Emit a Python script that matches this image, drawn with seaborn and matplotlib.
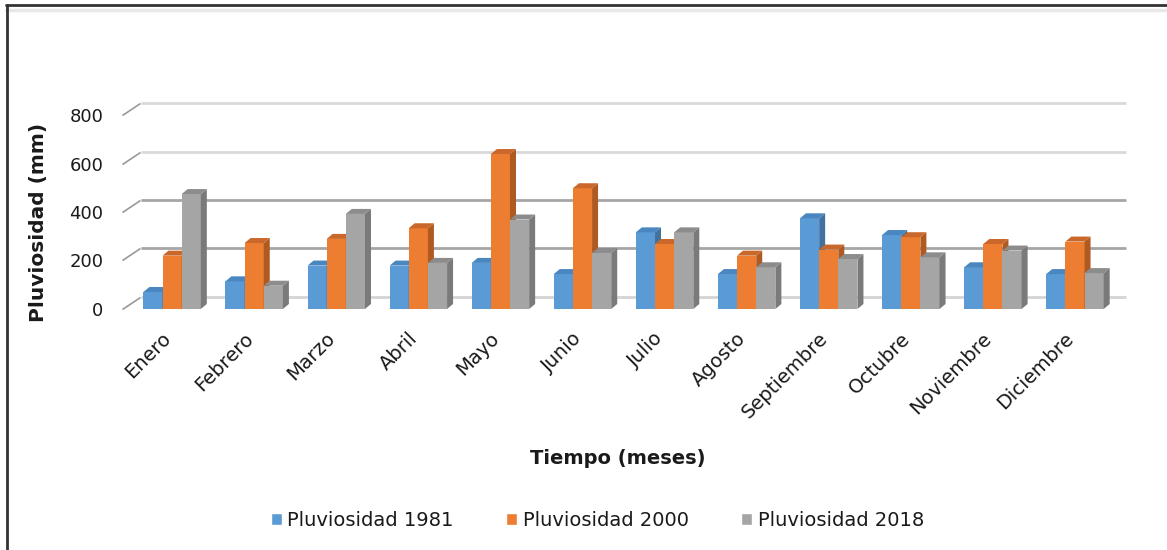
import matplotlib
matplotlib.use("Agg")
import matplotlib.pyplot as plt
import seaborn as sns
import pandas as pd
from matplotlib import transforms
from matplotlib.colors import to_hex
from matplotlib.lines import Line2D
from matplotlib.patches import Patch, Polygon
from matplotlib.path import Path

# datos
meses = ["Enero", "Febrero", "Marzo", "Abril", "Mayo", "Junio", "Julio",
         "Agosto", "Septiembre", "Octubre", "Noviembre", "Diciembre"]
series = ["Pluviosidad 1981", "Pluviosidad 2000", "Pluviosidad 2018"]
pluv_1981 = [70, 114, 179, 179, 190, 144, 316, 144, 374, 305, 172, 144]
pluv_2000 = [220, 272, 289, 333, 639, 498, 268, 220, 245, 296, 268, 278]
pluv_2018 = [474, 96, 392, 190, 369, 231, 316, 172, 206, 213, 241, 148]
y_ticks = [0, 200, 400, 600, 800]

colores = ["#5b9bd5", "#ed7d31", "#a5a5a5"]
lados = ["#41719c", "#ae5a21", "#7a7a7a"]
techos = ["#4a86bf", "#c9682a", "#8c8c8c"]

df = pd.DataFrame({
    "mes": meses * 3,
    "mm": pluv_1981 + pluv_2000 + pluv_2018,
    "serie": [s for s in series for _ in meses],
})

sns.set_style("white")
plt.rcParams["font.family"] = ["DejaVu Sans"]
plt.rcParams["text.color"] = "#1a1a1a"

DPI = 100
fig = plt.figure(figsize=(11.67, 5.5), dpi=DPI)
ax = fig.add_axes([0.1123, 0.4382, 0.8440, 0.3527])

sns.barplot(data=df, x="mes", y="mm", hue="serie", palette=colores,
            width=0.7, saturation=1, legend=False, ax=ax)
ax.set_xlim(-0.5, 11.5)
ax.set_ylim(0, 800)

# efecto 3D: cara lateral y superior de cada barra
pos = ax.get_position()
w_px = pos.width * fig.get_figwidth() * DPI
h_px = pos.height * fig.get_figheight() * DPI
dx = 6 * 12 / w_px
dy = 5 * 800 / h_px
lado_de = {to_hex(c): l for c, l in zip(colores, lados)}
techo_de = {to_hex(c): t for c, t in zip(colores, techos)}

barras = sorted(ax.patches, key=lambda p: p.get_x())
for k, p in enumerate(barras):
    x, w, h = p.get_x(), p.get_width(), p.get_height()
    col = to_hex(p.get_facecolor())
    z = 3 + k * 0.1
    p.set_zorder(z)
    p.set_edgecolor("none")
    lado = Polygon([(x + w, 0), (x + w + dx, dy), (x + w + dx, h + dy), (x + w, h)],
                   closed=True, facecolor=lado_de[col], edgecolor="none", zorder=z + 0.05)
    techo = Polygon([(x, h), (x + dx, h + dy), (x + w + dx, h + dy), (x + w, h)],
                    closed=True, facecolor=techo_de[col], edgecolor="none", zorder=z + 0.05)
    ax.add_patch(lado)
    ax.add_patch(techo)

# lineas de fondo (pared trasera)
atras = ax.get_yaxis_transform() + transforms.ScaledTranslation(10 / DPI, 12 / DPI, fig.dpi_scale_trans)
ax.hlines(y_ticks, 0, 1, transform=atras, colors=["#d4d4d4", "#a6a6a6", "#a6a6a6", "#d9d9d9", "#d9d9d9"],
          linewidth=2, zorder=0.5, clip_on=False)

# marcas inclinadas del eje y
marca = Path([(-1, -2 / 3), (1, 2 / 3)], [Path.MOVETO, Path.LINETO])
medio = ax.get_yaxis_transform() + transforms.ScaledTranslation(0, 6 / DPI, fig.dpi_scale_trans)
ax.plot([0] * len(y_ticks), y_ticks, linestyle="none", marker=marca, markersize=13,
        markeredgewidth=1.2, color="#9a9a9a", transform=medio, clip_on=False)

sns.despine(ax=ax, left=True, bottom=True)
ax.set_yticks(y_ticks)
ax.set_xlabel("")
ax.set_ylabel("")
ax.tick_params(axis="y", length=0, pad=20, labelsize=13, labelcolor="#1a1a1a")
ax.tick_params(axis="x", length=0, pad=19, labelsize=14, labelcolor="#1a1a1a")
corrida = transforms.ScaledTranslation(-4 / DPI, 0, fig.dpi_scale_trans)
for lbl in ax.get_xticklabels():
    lbl.set_rotation(45)
    lbl.set_ha("right")
    lbl.set_va("center")
    lbl.set_rotation_mode("anchor")
    lbl.set_transform(lbl.get_transform() + corrida)

fig.text(0.033, 0.596, "Pluviosidad (mm)", rotation=90, fontsize=14.5, fontweight="bold",
         ha="center", va="center")
fig.text(0.529, 0.167, "Tiempo (meses)", fontsize=14, fontweight="bold", ha="center", va="center")

manijas = [Patch(facecolor=c) for c in colores]
fig.legend(manijas, series, loc="center", bbox_to_anchor=(0.512, 0.054), ncol=3, frameon=False,
           fontsize=14, handlelength=0.55, handleheight=0.55, handletextpad=0.3, columnspacing=2.7)

# marco de la figura
fig.add_artist(Line2D([0.005, 1], [0.9905, 0.9905], transform=fig.transFigure, color="#333333", lw=2))
fig.add_artist(Line2D([0.005, 1], [0.981, 0.981], transform=fig.transFigure, color="#e8e8e8", lw=2.5))
fig.add_artist(Line2D([0.0056, 0.0056], [0, 0.9905], transform=fig.transFigure, color="#333333", lw=2))

fig.savefig("out.png", dpi=DPI)
